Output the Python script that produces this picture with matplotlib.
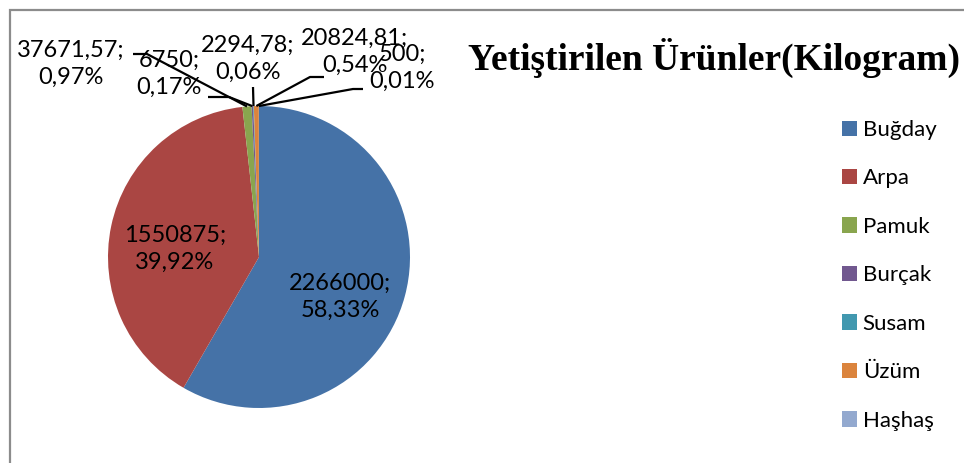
import numpy as np
import matplotlib
matplotlib.use("Agg")
import matplotlib.pyplot as plt
from matplotlib.patches import Rectangle

# data
crops = ["Buğday", "Arpa", "Pamuk", "Burçak", "Susam", "Üzüm", "Haşhaş"]
kg = [2266000, 1550875, 37671.57, 6750, 2294.78, 20824.81, 500]
pct_labels = ["58,33%", "39,92%", "0,97%", "0,17%", "0,06%", "0,54%", "0,01%"]
val_labels = ["2266000", "1550875", "37671,57", "6750", "2294,78", "20824,81", "500"]
colors = ["#4572A7", "#AA4643", "#89A54E", "#71588F", "#4198AF", "#DB843D", "#93A9CF"]

W, H = 964, 463
fig = plt.figure(figsize=(W / 100, H / 100), dpi=100)

# outer chart frame (right/bottom edges run off the image)
fig.patches.append(Rectangle((10 / W, -0.1), 1.2, 1 - 10 / H + 0.1, transform=fig.transFigure,
                             fill=False, ec="#8c8c8c", lw=1.6))

# pie centre (259, 257) px, radius 151 px
cx, cy, r = 259, 257, 151
ax = fig.add_axes([(cx - r) / W, (H - cy - r) / H, 2 * r / W, 2 * r / H])
wedges, _ = ax.pie(kg, colors=colors, startangle=90, counterclock=False, radius=1,
                   wedgeprops=dict(linewidth=0))
ax.set_xlim(-1, 1)
ax.set_ylim(-1, 1)
ax.set_aspect("auto")
ax.axis("off")


def px(x, y):
    # pixel position (top-left origin) -> pie data coords
    return (x - cx) / r, (cy - y) / r


lab_font = dict(family=["Lato", "DejaVu Sans"], fontsize=17, color="black",
                ha="center", va="center", linespacing=1.35)

# label centres in px and leader start points (None = inside the slice)
label_pos = [(340, 297), (175, 249), (71, 64), (169, 74), (248, 59), (355, 52), (402, 68)]
leader = [None, None,
          [(133, 54), (147, 54)],
          [(208, 97), (229, 97)],
          [(253, 87)],
          [(324, 77), (310, 77)],
          [(363, 89), (353, 89)]]

for i, w in enumerate(wedges):
    x, y = px(*label_pos[i])
    ax.text(x, y, f"{val_labels[i]};\n{pct_labels[i]}", clip_on=False, **lab_font)
    if leader[i] is not None:
        mid = np.deg2rad((w.theta1 + w.theta2) / 2)
        pts = [px(*p) for p in leader[i]] + [(np.cos(mid), np.sin(mid))]
        xs, ys = zip(*pts)
        ax.plot(xs, ys, color="black", lw=1.6, clip_on=False, solid_capstyle="butt")

fig.text(714 / W, 1 - 58 / H, "Yetiştirilen Ürünler(Kilogram)", ha="center", va="center",
         family=["Liberation Serif", "DejaVu Serif"], fontweight="bold", fontsize=27)

fig.legend(wedges, crops, loc="upper left", bbox_to_anchor=(842 / W, 1 - 120 / H),
           frameon=False, borderpad=0, borderaxespad=0, handlelength=0.68, handleheight=0.68,
           handletextpad=0.25, labelspacing=1.28,
           prop=dict(family=["Lato", "DejaVu Sans"], size=16))

fig.savefig("out.png", dpi=100)
